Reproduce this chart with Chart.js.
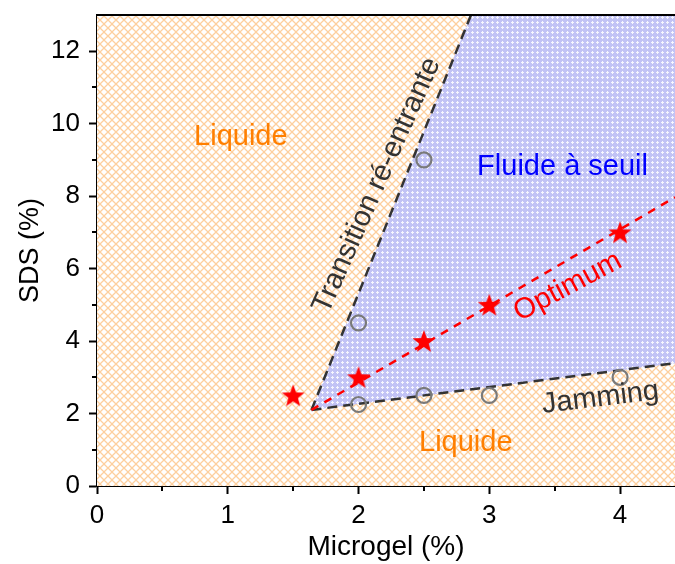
<!DOCTYPE html>
<html>
<head>
<meta charset="utf-8">
<script src="https://cdn.jsdelivr.net/npm/chart.js@4/dist/chart.umd.min.js"></script>
<style>
  html, body { margin: 0; padding: 0; background: #fff; overflow: hidden; }
  canvas { display: block; }
</style>
</head>
<body>
<canvas id="phaseChart" width="675" height="564"></canvas>
<script>
// measured points
const microgelCircles = [2, 2, 2.5, 2.5, 3, 4];
const sdsCircles = [4.5, 2.25, 9, 2.5, 2.5, 3];
const microgelStars = [1.5, 2, 2.5, 3, 4];
const sdsStars = [2.5, 3, 4, 5, 7];

// phase boundaries
const transitionX = [1.64, 2.86];
const transitionY = [2.1, 13];
const jammingX = [1.64, 4.42];
const jammingY = [2.1, 3.39];
const optimumX = [1.64, 4.42];
const optimumY = [2.1, 7.97];

const xTicks = [0, 1, 2, 3, 4];
const yTicks = [0, 2, 4, 6, 8, 10, 12];
const xMinor = [0.5, 1.5, 2.5, 3.5];
const yMinor = [1, 3, 5, 7, 9, 11];
const X_MAX = 4.42;
const Y_MAX = 13;

const toPoints = (xs, ys) => xs.map((x, i) => ({ x: x, y: ys[i] }));

// region between the transition line, the top edge and the jamming line
const gelRegion = [
  ...toPoints(transitionX, transitionY),
  { x: X_MAX, y: Y_MAX },
  ...toPoints(jammingX, jammingY).reverse(),
];

const labels = [
  { text: "Liquide", x: 1.1, y: 9.63, angle: 0, color: "#ff7f00" },
  { text: "Liquide", x: 2.82, y: 1.19, angle: 0, color: "#ff7f00" },
  { text: "Fluide à seuil", x: 3.56, y: 8.8, angle: 0, color: "#0000ff" },
  { text: "Optimum", x: 3.6, y: 5.5, angle: -28, color: "#ff0000" },
  { text: "Jamming", x: 3.85, y: 2.43, angle: -7, color: "#333333" },
  { text: "Transition ré-entrante", x: 2.14, y: 8.3, angle: -66, color: "#333333" },
];

const FONT = "'Liberation Sans', Arial, sans-serif";

function makeHatch(size, draw) {
  const c = document.createElement("canvas");
  c.width = size;
  c.height = size;
  draw(c.getContext("2d"), size);
  return document.getElementById("phaseChart").getContext("2d").createPattern(c, "repeat");
}

const orangeHatch = makeHatch(8, (g, s) => {
  g.fillStyle = "#ffffff";
  g.fillRect(0, 0, s, s);
  g.strokeStyle = "#fdcf9e";
  g.lineWidth = 1.3;
  g.beginPath();
  g.moveTo(-1, -1); g.lineTo(s + 1, s + 1);
  g.moveTo(-1, s + 1); g.lineTo(s + 1, -1);
  g.stroke();
});

const blueHatch = makeHatch(5, (g, s) => {
  g.fillStyle = "#c2c3f5";
  g.fillRect(0, 0, s, s);
  g.fillStyle = "#f6f6fe";
  g.fillRect(2, 1, 1, 3);
  g.fillRect(1, 2, 3, 1);
});

function makeStar(r) {
  const c = document.createElement("canvas");
  const size = Math.ceil(r * 2 + 2);
  c.width = size;
  c.height = size;
  const g = c.getContext("2d");
  g.translate(size / 2, size / 2 + 1);
  g.beginPath();
  for (let i = 0; i < 10; i++) {
    const rad = i % 2 === 0 ? r : r * 0.42;
    const a = -Math.PI / 2 + (i * Math.PI) / 5;
    g.lineTo(rad * Math.cos(a), rad * Math.sin(a));
  }
  g.closePath();
  g.fillStyle = "#ff0000";
  g.fill();
  return c;
}

const framePlugin = {
  id: "frame",
  beforeDatasetsDraw(chart) {
    const { ctx, chartArea: a } = chart;
    ctx.save();
    ctx.fillStyle = orangeHatch;
    ctx.fillRect(a.left, a.top, a.right - a.left, a.bottom - a.top);
    ctx.restore();
  },
  afterDraw(chart) {
    const { ctx, chartArea: a, scales } = chart;
    ctx.save();
    ctx.strokeStyle = "#000";
    ctx.lineWidth = 2;
    ctx.beginPath();
    ctx.moveTo(a.left - 1, a.top);
    ctx.lineTo(a.right, a.top);
    xMinor.forEach((v) => {
      const px = Math.round(scales.x.getPixelForValue(v));
      ctx.moveTo(px, a.bottom);
      ctx.lineTo(px, a.bottom + 5);
    });
    yMinor.forEach((v) => {
      const py = Math.round(scales.y.getPixelForValue(v));
      ctx.moveTo(a.left, py);
      ctx.lineTo(a.left - 5, py);
    });
    ctx.stroke();

    ctx.font = "29px " + FONT;
    ctx.textAlign = "center";
    ctx.textBaseline = "middle";
    labels.forEach((l) => {
      ctx.save();
      ctx.translate(scales.x.getPixelForValue(l.x), scales.y.getPixelForValue(l.y));
      ctx.rotate((l.angle * Math.PI) / 180);
      ctx.fillStyle = l.color;
      ctx.fillText(l.text, 0, 0);
      ctx.restore();
    });
    ctx.restore();
  },
};

const boundary = (xs, ys, color, dash) => ({
  data: toPoints(xs, ys),
  borderColor: color,
  borderWidth: 2.5,
  borderDash: dash,
  pointRadius: 0,
  fill: false,
  order: 3,
});

new Chart(document.getElementById("phaseChart"), {
  type: "line",
  data: {
    datasets: [
      {
        data: toPoints(microgelStars, sdsStars),
        showLine: false,
        pointStyle: makeStar(12),
        pointRadius: 12,
        order: 0,
      },
      {
        data: toPoints(microgelCircles, sdsCircles),
        showLine: false,
        pointStyle: "circle",
        pointRadius: 7.5,
        pointBorderWidth: 2.2,
        pointBorderColor: "#7a7a7a",
        pointBackgroundColor: "rgba(0,0,0,0)",
        order: 1,
      },
      { ...boundary(optimumX, optimumY, "#ff0000", [8, 7]), order: 2 },
      boundary(transitionX, transitionY, "#333333", [10, 6]),
      boundary(jammingX, jammingY, "#333333", [10, 6]),
      {
        data: gelRegion,
        borderWidth: 0,
        pointRadius: 0,
        backgroundColor: blueHatch,
        fill: "shape",
        order: 9,
      },
    ],
  },
  options: {
    responsive: false,
    animation: false,
    layout: { autoPadding: false, padding: { top: 15, left: 0, right: 0, bottom: 0 } },
    plugins: { legend: { display: false }, tooltip: { enabled: false } },
    scales: {
      x: {
        type: "linear",
        min: 0,
        max: X_MAX,
        afterBuildTicks: (s) => { s.ticks = xTicks.map((v) => ({ value: v })); },
        afterFit: (s) => {
          s.height = 78;
          s.paddingLeft = 0;
          s.paddingRight = 0;
        },
        ticks: { color: "#000", font: { size: 26, family: FONT }, padding: 6, maxRotation: 0 },
        grid: { drawOnChartArea: false, tickLength: 8, tickWidth: 2, tickColor: "#000" },
        border: { color: "#000", width: 2 },
        title: {
          display: true,
          text: "Microgel (%)",
          color: "#000",
          font: { size: 28, family: FONT },
          padding: { top: 0, bottom: 0 },
        },
      },
      y: {
        type: "linear",
        min: 0,
        max: Y_MAX,
        afterBuildTicks: (s) => { s.ticks = yTicks.map((v) => ({ value: v })); },
        afterFit: (s) => {
          s.width = 97;
          s.paddingTop = 0;
          s.paddingBottom = 0;
        },
        ticks: { color: "#000", font: { size: 26, family: FONT }, padding: 9 },
        grid: { drawOnChartArea: false, tickLength: 8, tickWidth: 2, tickColor: "#000" },
        border: { color: "#000", width: 2 },
        title: {
          display: true,
          text: "SDS (%)",
          color: "#000",
          font: { size: 27, family: FONT },
          padding: { top: 14, bottom: 0 },
        },
      },
    },
  },
  plugins: [framePlugin],
});
</script>
</body>
</html>
